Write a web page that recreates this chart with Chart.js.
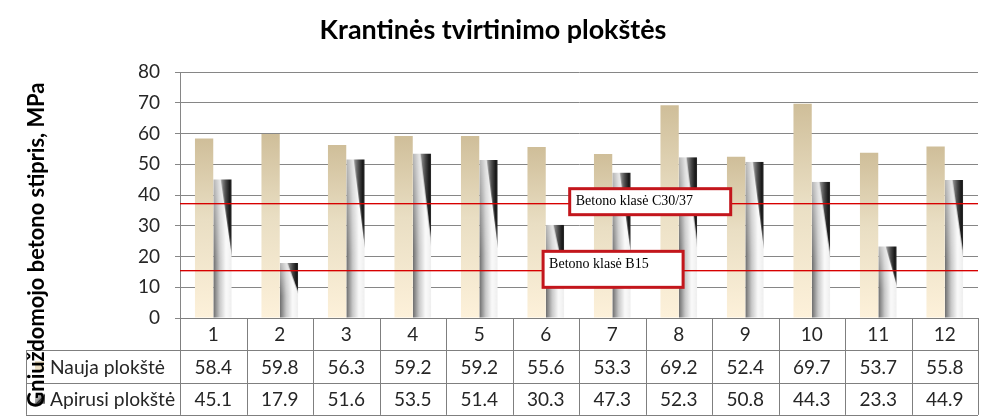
<!DOCTYPE html>
<html>
<head>
<meta charset="utf-8">
<script src="https://cdn.jsdelivr.net/npm/chart.js@4.4.1/dist/chart.umd.min.js"></script>
<style>
  html, body { margin: 0; padding: 0; background: #fff; }
  canvas { display: block; }
</style>
</head>
<body>
<canvas id="chart" width="981" height="419"></canvas>
<script>
// Duomenys
const categories = ['1', '2', '3', '4', '5', '6', '7', '8', '9', '10', '11', '12'];
const naujaValues = [58.4, 59.8, 56.3, 59.2, 59.2, 55.6, 53.3, 69.2, 52.4, 69.7, 53.7, 55.8];
const apirusiValues = [45.1, 17.9, 51.6, 53.5, 51.4, 30.3, 47.3, 52.3, 50.8, 44.3, 23.3, 44.9];
const seriesNames = ['Nauja plokštė', 'Apirusi plokštė'];
const yTicks = [0, 10, 20, 30, 40, 50, 60, 70, 80];
const refValues = [37.5, 15.5];
const refLabels = ['Betono klasė C30/37', 'Betono klasė B15'];

const chartTitle = 'Krantinės tvirtinimo plokštės';
const yTitle = 'Gniuždomojo betono stipris, MPa';

const SANS = 'Lato, "Open Sans", sans-serif';
const CAT_PCT = 0.55;

// Plotis vieno stulpelio
function barWidth(chart) {
    const x = chart.scales.x;
    return x.width / categories.length * CAT_PCT / 2;
}

// Šrifto dydis, kad tekstas užimtų norimą plotį
function fitFont(ctx, text, weight, width) {
    ctx.font = weight + ' 20px ' + SANS;
    const size = 20 * width / ctx.measureText(text).width;
    return weight + ' ' + size.toFixed(2) + 'px ' + SANS;
}

// Naujos plokštės gradientas (vertikalus)
function naujaFill(context) {
    const chart = context.chart;
    if (!chart.chartArea || context.type !== 'data') return '#e8dcc0';
    const y = chart.scales.y;
    const top = y.getPixelForValue(context.raw);
    const bottom = y.getPixelForValue(0);
    const g = chart.ctx.createLinearGradient(0, top, 0, bottom);
    g.addColorStop(0, '#cfbe99');
    g.addColorStop(0.45, '#e9dec3');
    g.addColorStop(1, '#fdf1da');
    return g;
}

// Apirusios plokštės "susuktas" piešinys
function apirusiFill(context) {
    const chart = context.chart;
    if (!chart.chartArea || context.type !== 'data') return '#999';
    const x = chart.scales.x, y = chart.scales.y;
    const w = barWidth(chart);
    const x0 = x.getPixelForValue(context.dataIndex);
    const top = y.getPixelForValue(context.raw);
    const h = Math.max(2, y.getPixelForValue(0) - top);

    const off = document.createElement('canvas');
    off.width = Math.ceil(w) + 2;
    off.height = Math.ceil(h) + 2;
    const c = off.getContext('2d');

    // pagrindas: horizontalus gradientas
    const base = c.createLinearGradient(0, 0, w, 0);
    base.addColorStop(0, '#6a6a6a');
    base.addColorStop(0.35, '#c8c8c8');
    base.addColorStop(0.7, '#fafafa');
    base.addColorStop(1, '#eeeeee');
    c.fillStyle = base;
    c.fillRect(0, 0, off.width, off.height);

    // viršuje kairė pusė šviesesnė
    const lift = c.createLinearGradient(0, 0, 0, h * 0.6);
    lift.addColorStop(0, 'rgba(255,255,255,0.5)');
    lift.addColorStop(1, 'rgba(255,255,255,0)');
    c.fillStyle = lift;
    c.fillRect(0, 0, off.width, off.height);

    // tamsus pleištas dešinėje
    const wedge = c.createLinearGradient(w * 0.4, 0, w, 0);
    wedge.addColorStop(0, '#a0a0a0');
    wedge.addColorStop(0.5, '#464646');
    wedge.addColorStop(0.85, '#161616');
    wedge.addColorStop(1, '#303030');
    c.fillStyle = wedge;
    c.beginPath();
    c.moveTo(w * 0.42, 0);
    c.lineTo(off.width, 0);
    c.lineTo(off.width, h * 0.66);
    c.closePath();
    c.fill();

    const p = chart.ctx.createPattern(off, 'no-repeat');
    p.setTransform(new DOMMatrix().translate(x0, top));
    return p;
}

// Raudonos linijos, užrašai, antraštė ir duomenų lentelė
const extrasPlugin = {
    id: 'extras',
    afterDatasetsDraw(chart) {
        const ctx = chart.ctx;
        const area = chart.chartArea;
        const x = chart.scales.x, y = chart.scales.y;
        const colW = x.width / categories.length;
        ctx.save();
        refValues.forEach(v => {
            const py = Math.round(y.getPixelForValue(v));
            ctx.fillStyle = 'rgb(215,0,0)';
            ctx.fillRect(area.left, py, area.right - area.left, 1);
            ctx.fillStyle = 'rgba(215,0,0,0.35)';
            ctx.fillRect(area.left, py + 1, area.right - area.left, 1);
        });

        // Užrašų langeliai
        const boxes = [
            { idx: 5.86, w: 161, h: 26 },
            { idx: 5.46, w: 140, h: 36 }
        ];
        refValues.forEach((v, i) => {
            const bx = area.left + boxes[i].idx * colW;
            const cy = y.getPixelForValue(v);
            const by = cy - boxes[i].h / 2 - 1;
            ctx.fillStyle = '#ffffff';
            ctx.fillRect(bx, by, boxes[i].w, boxes[i].h);
            ctx.strokeStyle = '#c3161c';
            ctx.lineWidth = 3;
            ctx.strokeRect(bx, by, boxes[i].w, boxes[i].h);
            ctx.fillStyle = '#000';
            ctx.font = '14px "Liberation Serif", "Times New Roman", serif';
            ctx.textAlign = 'left';
            ctx.textBaseline = 'middle';
            ctx.fillText(refLabels[i], bx + 6, by + 13);
        });
        ctx.restore();
    },
    afterDraw(chart) {
        const ctx = chart.ctx;
        const area = chart.chartArea;
        const x = chart.scales.x;
        const colW = x.width / categories.length;
        const rowH = 32.3;
        const tableLeft = 26;
        const r0 = area.bottom, r1 = r0 + rowH, r2 = r1 + rowH, r3 = r2 + rowH;
        ctx.save();

        // Antraštė
        ctx.fillStyle = '#000';
        ctx.font = fitFont(ctx, chartTitle, 'bold', 347);
        ctx.textAlign = 'center';
        ctx.textBaseline = 'middle';
        ctx.fillText(chartTitle, 493, 30);

        // Lentelės linijos
        ctx.strokeStyle = '#7f7f7f';
        ctx.lineWidth = 1;
        ctx.beginPath();
        ctx.moveTo(area.left, Math.round(r0) + 0.5);
        ctx.lineTo(area.right, Math.round(r0) + 0.5);
        [r1, r2, r3].forEach(r => {
            ctx.moveTo(tableLeft, Math.round(r) + 0.5);
            ctx.lineTo(area.right, Math.round(r) + 0.5);
        });
        for (let i = 0; i <= categories.length; i++) {
            const px = Math.round(area.left + i * colW) + 0.5;
            ctx.moveTo(px, r0);
            ctx.lineTo(px, r3);
        }
        ctx.moveTo(tableLeft + 0.5, r1);
        ctx.lineTo(tableLeft + 0.5, r3);
        ctx.stroke();

        // Lentelės tekstai
        ctx.fillStyle = '#262626';
        ctx.font = '19px ' + SANS;
        ctx.textAlign = 'center';
        ctx.textBaseline = 'middle';
        categories.forEach((c, i) => {
            const cx = x.getPixelForValue(i);
            ctx.fillText(c, cx, (r0 + r1) / 2 + 1);
            ctx.fillText(naujaValues[i].toFixed(1), cx, (r1 + r2) / 2 + 1);
            ctx.fillText(apirusiValues[i].toFixed(1), cx, (r2 + r3) / 2 + 1);
        });
        ctx.textAlign = 'left';
        ctx.font = fitFont(ctx, seriesNames[0], 'normal', 115);
        ctx.fillText(seriesNames[0], 50, (r1 + r2) / 2 + 1);
        ctx.fillText(seriesNames[1], 50, (r2 + r3) / 2 + 1);

        // Legendos ženklai
        const k1y = (r1 + r2) / 2 - 5;
        const g1 = ctx.createLinearGradient(0, k1y, 0, k1y + 10);
        g1.addColorStop(0, '#d8c9a6');
        g1.addColorStop(1, '#fbf0d9');
        ctx.fillStyle = g1;
        ctx.fillRect(35, k1y, 9, 10);
        const k2y = (r2 + r3) / 2 - 5;
        const g2 = ctx.createLinearGradient(35, k2y, 45, k2y + 10);
        g2.addColorStop(0, '#e8e8e8');
        g2.addColorStop(0.5, '#909090');
        g2.addColorStop(0.55, '#333333');
        g2.addColorStop(1, '#777777');
        ctx.fillStyle = g2;
        ctx.fillRect(35, k2y, 10, 10);

        // Y ašies pavadinimas
        ctx.font = fitFont(ctx, yTitle, 'bold', 325);
        ctx.translate(37, 245);
        ctx.rotate(-Math.PI / 2);
        ctx.fillStyle = '#000';
        ctx.textAlign = 'center';
        ctx.textBaseline = 'middle';
        ctx.fillText(yTitle, 0, 0);
        ctx.restore();
    }
};

new Chart(document.getElementById('chart').getContext('2d'), {
    type: 'bar',
    data: {
        labels: categories,
        datasets: [{
            label: seriesNames[0],
            data: naujaValues,
            backgroundColor: naujaFill,
            borderWidth: 0
        }, {
            label: seriesNames[1],
            data: apirusiValues,
            backgroundColor: apirusiFill,
            borderWidth: 0
        }]
    },
    options: {
        responsive: false,
        animation: false,
        devicePixelRatio: 1,
        layout: {
            padding: { top: 72, bottom: 101, left: 0, right: 3 }
        },
        datasets: {
            bar: {
                categoryPercentage: CAT_PCT,
                barPercentage: 1.0
            }
        },
        scales: {
            x: {
                display: false
            },
            y: {
                min: yTicks[0],
                max: yTicks[yTicks.length - 1],
                afterFit: function(scale) {
                    scale.width = 180;
                },
                afterBuildTicks: function(scale) {
                    scale.ticks = yTicks.map(v => ({ value: v }));
                },
                grid: {
                    color: '#868686',
                    tickLength: 5
                },
                border: {
                    color: '#868686'
                },
                ticks: {
                    color: '#262626',
                    padding: 15,
                    font: { family: SANS, size: 19 }
                }
            }
        },
        plugins: {
            legend: { display: false },
            tooltip: { enabled: false },
            title: { display: false }
        }
    },
    plugins: [extrasPlugin]
});
</script>
</body>
</html>
